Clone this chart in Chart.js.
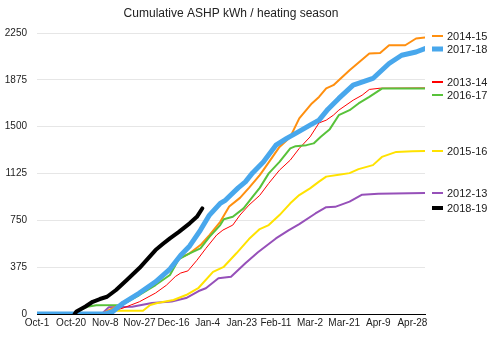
<!DOCTYPE html>
<html>
<head>
<meta charset="utf-8">
<script src="https://cdn.jsdelivr.net/npm/chart.js@4.4.1/dist/chart.umd.min.js"></script>
<style>
  html, body { margin: 0; padding: 0; background: #fff; }
  #wrap { width: 498px; height: 341px; }
</style>
</head>
<body>
<div id="wrap"><canvas id="ashpChart" width="498" height="341"></canvas></div>
<script>
const chartTitle = 'Cumulative ASHP kWh / heating season';
const xTickLabels = ['Oct-1', 'Oct-20', 'Nov-8', 'Nov-27', 'Dec-16', 'Jan-4', 'Jan-23', 'Feb-11', 'Mar-2', 'Mar-21', 'Apr-9', 'Apr-28'];
const yTicks = [0, 375, 750, 1125, 1500, 1875, 2250];

// days since Oct-1 / cumulative kWh
const days1213 = [0, 36, 40, 53, 64, 75, 83, 90, 94, 101, 108, 116, 123, 133, 140, 146, 155, 161, 166, 174, 181, 190, 216];
const kwh1213 = [0, 0, 55, 58, 88, 100, 128, 184, 206, 286, 298, 406, 495, 605, 670, 720, 805, 855, 858, 900, 955, 962, 968];

const days1314 = [0, 41, 43, 48, 57, 66, 72, 77, 80, 84, 89, 94, 100, 103.5, 109, 113, 118, 124, 129, 135, 141, 146, 152, 157, 161, 165, 168, 176, 181, 185, 191, 216];
const kwh1314 = [0, 0, 26, 48, 98, 168, 230, 300, 328, 345, 430, 525, 632, 672, 712, 792, 872, 950, 1046, 1152, 1232, 1326, 1418, 1530, 1552, 1592, 1632, 1712, 1752, 1798, 1808, 1810];

const days1415 = [0, 36, 40, 44, 50, 57, 66, 72, 79, 85, 91, 96, 102, 107, 113, 118, 124, 126, 135, 141, 146, 153, 157, 161, 165, 168, 174, 185, 191, 196, 205, 211, 216];
const kwh1415 = [0, 0, 30, 58, 100, 170, 255, 340, 446, 486, 552, 632, 738, 860, 930, 1010, 1112, 1152, 1338, 1418, 1566, 1686, 1738, 1806, 1832, 1872, 1952, 2086, 2090, 2152, 2152, 2206, 2214];

const days1516 = [0, 40, 41, 59, 63, 67, 70, 76, 83, 90, 98, 104, 111, 118, 124, 129, 135, 141, 146, 152, 157, 161, 168, 174, 179, 187, 192, 200, 209, 216];
const kwh1516 = [0, 0, 26, 26, 72, 88, 96, 112, 152, 210, 337, 378, 486, 600, 680, 712, 792, 886, 952, 1006, 1060, 1100, 1115, 1128, 1160, 1192, 1258, 1298, 1304, 1305];

const days1617 = [0, 22, 24, 28, 33, 47, 48, 57, 66, 74, 79, 85, 91, 96, 102, 104, 109, 115, 120, 124, 129, 135, 141, 144, 150, 154, 158, 163, 168, 174, 179, 185, 192, 216];
const kwh1617 = [0, 0, 32, 58, 70, 72, 80, 152, 232, 312, 440, 486, 526, 618, 712, 758, 778, 846, 938, 1010, 1126, 1218, 1326, 1344, 1352, 1366, 1420, 1480, 1592, 1632, 1686, 1738, 1805, 1806];

const days1718 = [0, 38, 42, 48, 57, 66, 74, 80, 85, 91, 96, 102, 105, 108, 112, 116, 120, 126, 133, 139, 144, 152, 157, 162, 168, 176, 187, 196, 203, 211, 216];
const kwh1718 = [0, 0, 18, 88, 168, 258, 360, 470, 545, 672, 792, 886, 912, 955, 1010, 1058, 1130, 1218, 1352, 1406, 1446, 1512, 1552, 1640, 1726, 1832, 1886, 2006, 2072, 2098, 2126];

const days1819 = [21, 22, 27, 31, 35, 39, 44, 50, 57, 62, 66, 70, 74, 79, 85, 89, 92];
const kwh1819 = [0, 20, 60, 98, 120, 138, 192, 272, 368, 448, 512, 560, 606, 658, 726, 778, 845];

const seasons = [
  { label: '2012-13', days: days1213, kwh: kwh1213, color: '#9650b9', width: 2 },
  { label: '2013-14', days: days1314, kwh: kwh1314, color: '#ff0000', width: 1 },
  { label: '2014-15', days: days1415, kwh: kwh1415, color: '#ff8f0f', width: 2 },
  { label: '2015-16', days: days1516, kwh: kwh1516, color: '#ffe200', width: 2 },
  { label: '2016-17', days: days1617, kwh: kwh1617, color: '#58c23a', width: 2 },
  { label: '2017-18', days: days1718, kwh: kwh1718, color: '#48a7ec', width: 5 },
  { label: '2018-19', days: days1819, kwh: kwh1819, color: '#000000', width: 4 }
];

const FONT = 'Liberation Sans, Arial, Helvetica, sans-serif';

// labels at the right, next to where each line ends
const endLabels = {
  id: 'endLabels',
  afterDraw(chart) {
    const { ctx, chartArea } = chart;
    const yScale = chart.scales.y;
    const gap = 13;
    const items = chart.data.datasets.map(ds => ({
      ds, want: yScale.getPixelForValue(ds.data[ds.data.length - 1].y)
    })).sort((a, b) => a.want - b.want);

    let groups = items.map(it => ({ members: [it], center: it.want }));
    let merged = true;
    while (merged) {
      merged = false;
      for (let i = 0; i < groups.length - 1; i++) {
        const a = groups[i], b = groups[i + 1];
        const aBottom = a.center + (a.members.length - 1) * gap / 2;
        const bTop = b.center - (b.members.length - 1) * gap / 2;
        if (bTop - aBottom < gap) {
          const members = a.members.concat(b.members);
          const center = members.reduce((s, m) => s + m.want, 0) / members.length;
          groups.splice(i, 2, { members, center });
          merged = true;
          break;
        }
      }
    }

    const x0 = chartArea.right + 7;
    ctx.save();
    ctx.font = '11px ' + FONT;
    ctx.textBaseline = 'middle';
    ctx.textAlign = 'left';
    groups.forEach(g => {
      g.members.forEach((m, k) => {
        const yy = Math.round(g.center + (k - (g.members.length - 1) / 2) * gap);
        const lw = Math.max(2, Math.min(m.ds.borderWidth, 5));
        ctx.fillStyle = m.ds.borderColor;
        ctx.fillRect(x0, yy - lw / 2, 11, lw);
        ctx.fillStyle = '#222';
        ctx.fillText(m.ds.label, x0 + 15, yy + 0.5);
      });
    });
    ctx.restore();
  }
};

const ctx = document.getElementById('ashpChart').getContext('2d');
new Chart(ctx, {
  type: 'line',
  data: {
    datasets: seasons.map((s, i) => ({
      label: s.label,
      data: s.days.map((d, j) => ({ x: d, y: s.kwh[j] })),
      borderColor: s.color,
      backgroundColor: s.color,
      borderWidth: s.width,
      pointRadius: 0,
      tension: 0,
      fill: false,
      borderJoinStyle: 'round',
      borderCapStyle: 'round',
      order: seasons.length - i
    }))
  },
  options: {
    responsive: false,
    animation: false,
    devicePixelRatio: 1,
    layout: { padding: { left: 0, right: 73, top: 0, bottom: 0 } },
    plugins: {
      legend: { display: false },
      tooltip: { enabled: false },
      title: {
        display: true, text: chartTitle, fullSize: false, color: '#222',
        font: { family: FONT, size: 12, weight: 'normal' },
        padding: { top: 6, bottom: 12.6 }
      }
    },
    scales: {
      x: {
        type: 'linear', min: 0, max: 216,
        afterBuildTicks: s => { s.ticks = xTickLabels.map((_, i) => ({ value: i * 19 })); },
        afterFit: s => { s.height = 27; },
        ticks: {
          autoSkip: false, maxRotation: 0, padding: 3, color: '#222',
          font: { family: FONT, size: 10 },
          callback: v => xTickLabels[Math.round(v / 19)]
        },
        grid: { display: false, drawTicks: false },
        border: { display: true, color: '#000', width: 1 }
      },
      y: {
        min: 0, max: 2250,
        afterBuildTicks: s => { s.ticks = yTicks.map(v => ({ value: v })); },
        afterFit: s => { s.width = 37; },
        ticks: { padding: 10, color: '#222', font: { family: FONT, size: 10 }, callback: v => String(v) },
        grid: { color: '#e6e6e6', drawTicks: false },
        border: { display: false }
      }
    }
  },
  plugins: [endLabels]
});
</script>
</body>
</html>
